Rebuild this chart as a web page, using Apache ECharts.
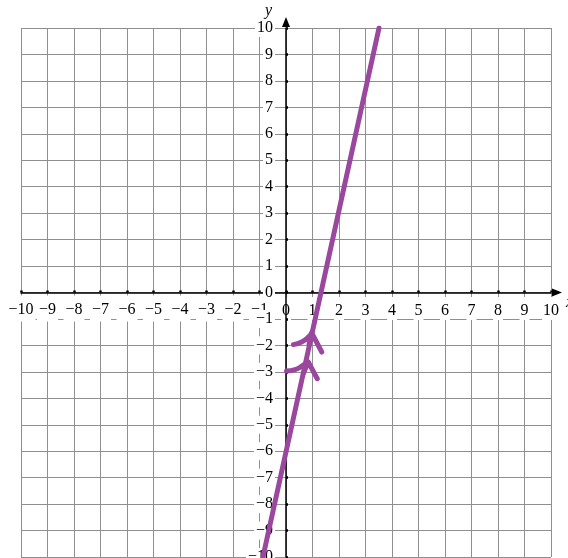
<!DOCTYPE html>
<html>
<head>
<meta charset="utf-8">
<script src="https://cdn.jsdelivr.net/npm/echarts@6/dist/echarts.min.js"></script>
<style>
  html, body { margin: 0; padding: 0; background: #fff; }
  #chart { width: 568px; height: 558px; }
</style>
</head>
<body>
<div id="chart"></div>
<script>
// axis range and tick labels
const axisMin = -10;
const axisMax = 10;
const axisStep = 1;
const tickValues = [-10, -9, -8, -7, -6, -5, -4, -3, -2, -1, 0, 1, 2, 3, 4, 5, 6, 7, 8, 9, 10];

// the purple line, read at the top and bottom of the grid
const lineX = [-0.87, 3.51];
const lineY = [-10, 10];

// curved arrow near y = -2
const arcAX = [0.28, 0.59, 0.84, 0.97];
const arcAY = [-1.97, -1.87, -1.69, -1.53];
const headAX = [0.87, 0.97, 1.35];
const headAY = [-1.95, -1.53, -2.25];

// curved arrow near y = -3
const arcBX = [0.02, 0.34, 0.65, 0.84];
const arcBY = [-2.97, -2.92, -2.75, -2.63];
const headBX = [0.66, 0.84, 1.18];
const headBY = [-3.05, -2.63, -3.26];

const purple = '#9a479e';
const font = 'Liberation Serif';

const W = 568, H = 558;
const gridBox = { left: 21, right: 17, top: 28, bottom: 1 };
const gridW = W - gridBox.left - gridBox.right;
const gridH = H - gridBox.top - gridBox.bottom;

const zip = (xs, ys) => xs.map((x, i) => [x, ys[i]]);
const fmt = v => (v < 0 ? '{n|\u2212' + Math.abs(v) + '}' : '{p|' + v + '}');

const chartDom = document.getElementById('chart');
const myChart = echarts.init(chartDom, null, { renderer: 'canvas' });

const gridLines = {
  type: 'value', min: axisMin, max: axisMax, interval: axisStep, z: 0,
  axisLine: { show: false, onZero: false },
  axisTick: { show: false },
  axisLabel: { show: false },
  splitLine: { show: true, lineStyle: { color: '#8f8f8f', width: 1 } }
};

const curve = (xs, ys, smooth) => ({
  type: 'line',
  data: zip(xs, ys),
  smooth: smooth,
  symbol: 'none',
  lineStyle: { color: purple, width: 5, cap: 'round', join: 'round' },
  z: 5
});

const option = {
  animation: false,
  backgroundColor: '#fff',
  grid: Object.assign({ containLabel: false, outerBoundsMode: 'none' }, gridBox),
  xAxis: [
    Object.assign({}, gridLines, { position: 'top' }),
    {
      type: 'value', min: axisMin, max: axisMax, interval: axisStep, z: 1,
      position: 'bottom', offset: -gridH / 2,
      name: 'x', nameLocation: 'end', nameGap: 8,
      nameTextStyle: { fontFamily: font, fontStyle: 'italic', fontSize: 16, color: '#000', verticalAlign: 'top', padding: [2, 0, 0, 0] },
      axisLine: { show: true, onZero: false, symbol: ['none', 'triangle'], symbolSize: [8, 10], symbolOffset: [0, 6], lineStyle: { color: '#000', width: 1.5 } },
      axisTick: { show: true, inside: true, length: 2, lineStyle: { color: '#000', width: 2.5 } },
      splitLine: { show: false },
      axisLabel: {
        margin: 8,
        showMinLabel: true,
        showMaxLabel: true,
        hideOverlap: false,
        formatter: fmt,
        rich: {
          p: { fontFamily: font, fontSize: 16, lineHeight: 16, color: '#000', backgroundColor: '#fff', padding: [6, 1, 1, 1] },
          n: { fontFamily: font, fontSize: 16, lineHeight: 16, color: '#000', backgroundColor: '#fff', padding: [6, 2, 4, 2] }
        }
      }
    }
  ],
  yAxis: [
    Object.assign({}, gridLines, { position: 'right' }),
    {
      type: 'value', min: axisMin, max: axisMax, interval: axisStep, z: 2,
      position: 'left', offset: -gridW / 2,
      name: 'y', nameLocation: 'end', nameGap: 6,
      nameTextStyle: { fontFamily: font, fontStyle: 'italic', fontSize: 16, color: '#000', align: 'right', padding: [0, 14, 0, 0] },
      axisLine: { show: true, onZero: false, symbol: ['none', 'triangle'], symbolSize: [8, 10], symbolOffset: [0, 6], lineStyle: { color: '#000', width: 1.5 } },
      axisTick: { show: true, inside: true, length: 2, lineStyle: { color: '#000', width: 2.5 } },
      splitLine: { show: false },
      axisLabel: {
        margin: 11,
        showMinLabel: true,
        showMaxLabel: true,
        hideOverlap: false,
        formatter: fmt,
        rich: {
          p: { fontFamily: font, fontSize: 16, lineHeight: 16, color: '#000', backgroundColor: '#fff', padding: [1, 2, 1, 2] },
          n: { fontFamily: font, fontSize: 16, lineHeight: 16, color: '#000', backgroundColor: '#fff', padding: [1, 2, 1, 2] }
        }
      }
    }
  ],
  series: [
    curve(lineX, lineY, false),
    curve(arcAX, arcAY, true),
    curve(headAX, headAY, false),
    curve(arcBX, arcBY, true),
    curve(headBX, headBY, false)
  ]
};

option && myChart.setOption(option);
</script>
</body>
</html>
